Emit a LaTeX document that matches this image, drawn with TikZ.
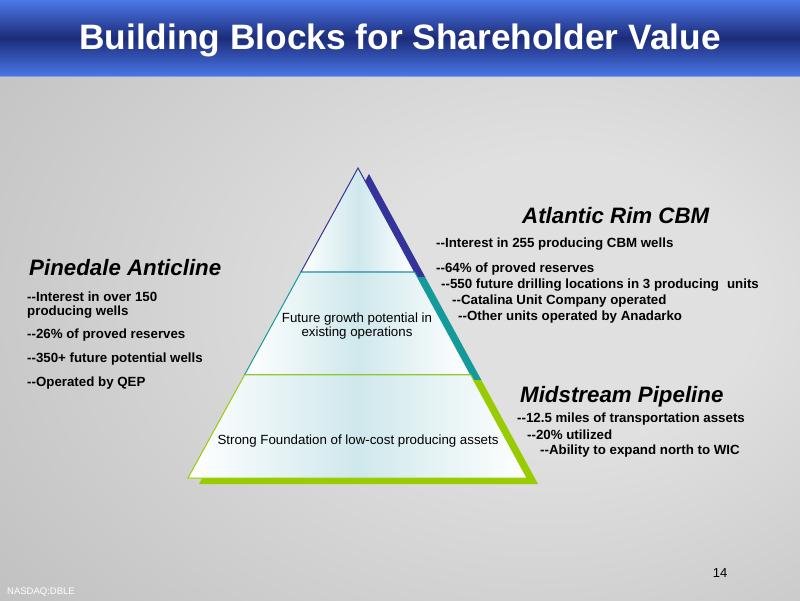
\documentclass[tikz,border=0pt]{standalone}
\usepackage{fontspec}
\setmainfont{Liberation Sans}[Ligatures=TeXOff]
\usetikzlibrary{calc}
\definecolor{bgin}{HTML}{E0E0E0}
\definecolor{bgout}{HTML}{B0B0B0}
\definecolor{tTop}{HTML}{4C78E8}
\definecolor{tMid}{HTML}{1C2C7A}
\definecolor{tBot}{HTML}{4A76E6}
\definecolor{tLine}{HTML}{8A9AD8}
\definecolor{pblue}{HTML}{333399}
\definecolor{pteal}{HTML}{159A9A}
\definecolor{pgreen}{HTML}{99CC00}
\definecolor{bandc}{HTML}{CFE8EC}
\pgfdeclareradialshading{bgshade}{\pgfpoint{12bp}{0bp}}{color(0bp)=(bgin); color(12bp)=(bgin); color(55bp)=(bgout); color(80bp)=(bgout)}
\tikzset{
  bandfill/.style={left color=white, right color=white, middle color=bandc},
  heading/.style={anchor=west, inner sep=0pt, font=\fontsize{22.3}{26}\selectfont\bfseries\itshape},
  bodyline/.style={anchor=west, inner sep=0pt, font=\fontsize{13.3}{15}\selectfont\bfseries},
  pyrtext/.style={inner sep=0pt, align=center, font=\fontsize{13.3}{14.5}\selectfont}
}
\begin{document}
\begin{tikzpicture}[x=1pt,y=-1pt]
\useasboundingbox (0,0) rectangle (800,600);
\shade[shading=bgshade] (0,0) rectangle (800,600);
\shade[top color=tTop, bottom color=tBot, middle color=tMid] (0,0) rectangle (800,76);
\draw[tLine, line width=1pt] (0,76) -- (800,76);
\node[text=white, font=\fontsize{35.3}{40}\selectfont\bfseries] (title) at (400,40) {Building Blocks for Shareholder Value};
% shadow
\begin{scope}
\clip (369,174) -- (199,484) -- (538,484) -- cycle;
\fill[pblue] (150,150) rectangle (560,277);
\fill[pteal] (150,277) rectangle (560,380);
\fill[pgreen] (150,380) rectangle (560,500);
\end{scope}
% pyramid
\coordinate (A) at (358,168);
\coordinate (L) at (188,478);
\coordinate (R) at (527,478);
\coordinate (L1) at ($(A)!0.3355!(L)$);
\coordinate (R1) at ($(A)!0.3355!(R)$);
\coordinate (L2) at ($(A)!0.6677!(L)$);
\coordinate (R2) at ($(A)!0.6677!(R)$);
\shade[bandfill] (A) -- (L1) -- (R1) -- cycle;
\draw[pblue, line width=1pt, line join=miter] (A) -- (L1) -- (R1) -- cycle;
\shade[bandfill] (L1) -- (L2) -- (R2) -- (R1) -- cycle;
\draw[pteal, line width=1pt] (L1) -- (L2) -- (R2) -- (R1) -- cycle;
\shade[bandfill] (L2) -- (L) -- (R) -- (R2) -- cycle;
\draw[pgreen, line width=1pt] (L2) -- (L) -- (R) -- (R2) -- cycle;
\node[pyrtext] (mid) at (357,326) {Future growth potential in\\existing operations};
\node[pyrtext] (base) at (358,441) {Strong Foundation of low-cost producing assets};
% Atlantic Rim
\node[heading] (arh) at (522,216) {Atlantic Rim CBM};
\node[bodyline] (ar1) at (436,244) {--Interest in 255 producing CBM wells};
\node[bodyline] (ar2) at (436,269) {--64\% of proved reserves};
\node[bodyline] (ar3) at (441,285) {--550 future drilling locations in 3 producing\hspace{8pt}units};
\node[bodyline] (ar4) at (452,301) {--Catalina Unit Company operated};
\node[bodyline] (ar5) at (458,317) {--Other units operated by Anadarko};
% Pinedale
\node[heading] (pah) at (29,268) {Pinedale Anticline};
\node[bodyline] (pa1) at (27,297) {--Interest in over 150};
\node[bodyline] (pa1b) at (27,312) {producing wells};
\node[bodyline] (pa2) at (27,335) {--26\% of proved reserves};
\node[bodyline] (pa3) at (27,359) {--350+ future potential wells};
\node[bodyline] (pa4) at (27,383) {--Operated by QEP};
% Midstream
\node[heading] (msh) at (520,397) {Midstream Pipeline};
\node[bodyline] (ms1) at (517,419) {--12.5 miles of transportation assets};
\node[bodyline] (ms2) at (527,435) {--20\% utilized};
\node[bodyline] (ms3) at (540,451) {--Ability to expand north to WIC};
% footer
\node[anchor=center, inner sep=0pt, font=\fontsize{13}{15}\selectfont] (pg) at (720,573) {14};
\node[anchor=west, inner sep=0pt, text=white, font=\fontsize{9.5}{11}\selectfont] (nasdaq) at (7,592) {NASDAQ:DBLE};
\end{tikzpicture}
\end{document}
